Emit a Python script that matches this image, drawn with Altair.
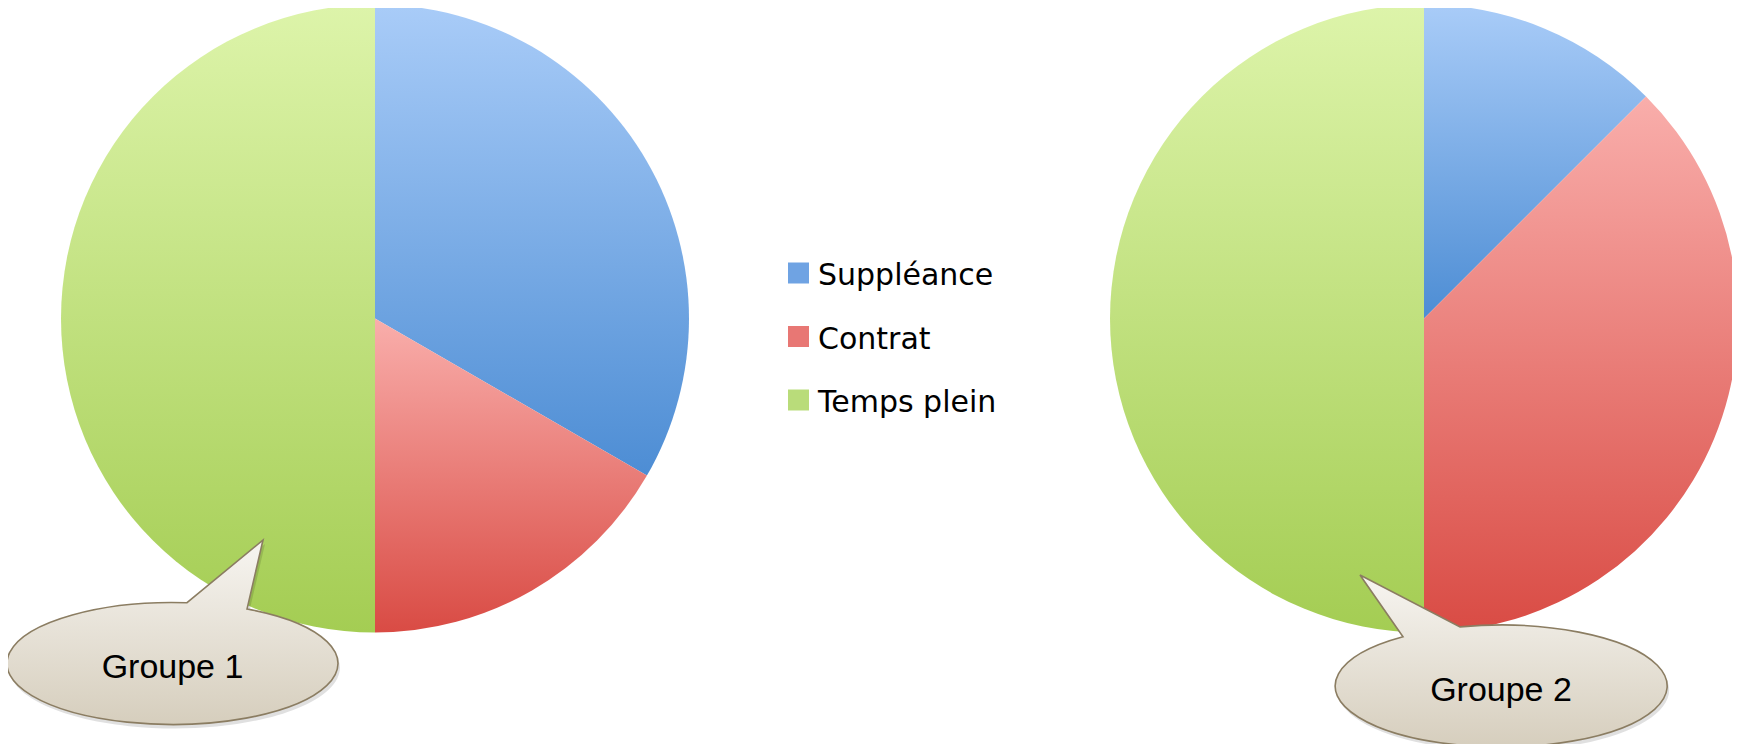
import math
import altair as alt
import pandas as pd

# ---- data ----
groups = ["Groupe 1", "Groupe 2"]
categories = ["Suppléance", "Contrat", "Temps plein"]
values_g1 = [2, 1, 3]
values_g2 = [1, 3, 4]

rows = []
for g, vals in zip(groups, [values_g1, values_g2]):
    for i, (c, v) in enumerate(zip(categories, vals)):
        rows.append({"group": g, "category": c, "value": v, "order": i})
df = pd.DataFrame(rows)
legend_df = pd.DataFrame({"category": categories})
label_df = pd.DataFrame({"group": groups})

# ---- styles ----
grad_stops = {
    "Suppléance": ("#a9ccf8", "#4d8dd4"),
    "Contrat": ("#f9aeab", "#d94b44"),
    "Temps plein": ("#ddf4aa", "#a4cd53"),
}
legend_colors = ["#6fa3e3", "#e87774", "#b9dc7a"]


def vgrad(c0, c1):
    return {
        "gradient": "linear",
        "x1": 0, "y1": 0, "x2": 0, "y2": 1,
        "stops": [{"offset": 0, "color": c0}, {"offset": 1, "color": c1}],
    }


bubble_fill = vgrad("#f7f5f1", "#d6cebd")

W, H = 1724, 736
R = 314
centers = {"Groupe 1": (367, 310.5), "Groupe 2": (1416, 310.5)}

layers = []

# ---- pies ----
for g in groups:
    cx, cy = centers[g]
    for c in categories:
        lo, hi = grad_stops[c]
        layer = (
            alt.Chart(df)
            .transform_filter(alt.datum.group == g)
            .transform_stack(
                stack="value",
                groupby=["group"],
                as_=["v0", "v1"],
                offset="normalize",
                sort=[alt.SortField("order", order="ascending")],
            )
            .transform_filter(alt.datum.category == c)
            .mark_arc(radius=R, fill=vgrad(lo, hi))
            .encode(
                theta=alt.Theta(
                    "v0:Q",
                    scale=alt.Scale(domain=[0, 1], range=[0, 2 * math.pi]),
                ),
                theta2="v1:Q",
                x=alt.value(cx),
                y=alt.value(cy),
            )
        )
        layers.append(layer)

# ---- speech bubbles ----
bubbles = {
    "Groupe 1": {
        "path": "M 74.5 -54.5 A 165.5 61 0 1 1 14.5 -60.8 L 90.5 -123.5 Z",
        "pos": (164.5, 655.5),
        "text": (164.5, 670),
    },
    "Groupe 2": {
        "path": "M -41 -59.1 A 166 61 0 1 1 -98 -49.2 L -141 -111 Z",
        "pos": (1493, 678),
        "text": (1493, 693),
    },
}

for g in groups:
    b = bubbles[g]
    bx, by = b["pos"]
    src = alt.Chart(label_df).transform_filter(alt.datum.group == g)
    shadow = src.mark_point(
        shape=b["path"], size=4, filled=True, fill="#000000",
        fillOpacity=0.12, strokeOpacity=0, opacity=1,
    ).encode(x=alt.value(bx + 2), y=alt.value(by + 4))
    body = src.mark_point(
        shape=b["path"], size=4, filled=True, fill=bubble_fill,
        stroke="#8b7d62", strokeWidth=1.6, opacity=1,
    ).encode(x=alt.value(bx), y=alt.value(by))
    tx, ty = b["text"]
    label = src.mark_text(
        font="Liberation Sans", fontSize=34, color="#000000",
        align="center", baseline="alphabetic",
    ).encode(x=alt.value(tx), y=alt.value(ty), text="group:N")
    layers += [shadow, body, label]

# ---- legend ----
ly = alt.Y(
    "category:N",
    sort=categories,
    scale=alt.Scale(type="point", range=[265, 392], padding=0),
    axis=None,
)
leg_sq = alt.Chart(legend_df).mark_square(size=441, opacity=1).encode(
    x=alt.value(790.5),
    y=ly,
    color=alt.Color(
        "category:N",
        scale=alt.Scale(domain=categories, range=legend_colors),
        legend=None,
    ),
)
leg_txt = alt.Chart(legend_df).mark_text(
    font="DejaVu Sans", fontSize=30, color="#000000",
    align="left", baseline="alphabetic", dy=12,
).encode(x=alt.value(810), y=ly, text="category:N")
layers += [leg_sq, leg_txt]

chart = (
    alt.layer(*layers)
    .properties(width=W, height=H, padding=0, autosize=alt.AutoSizeParams(type="none"),
                background="#ffffff")
    .configure_view(stroke=None)
)

chart.save("out.html", embed_options={"renderer": "svg", "actions": False})
